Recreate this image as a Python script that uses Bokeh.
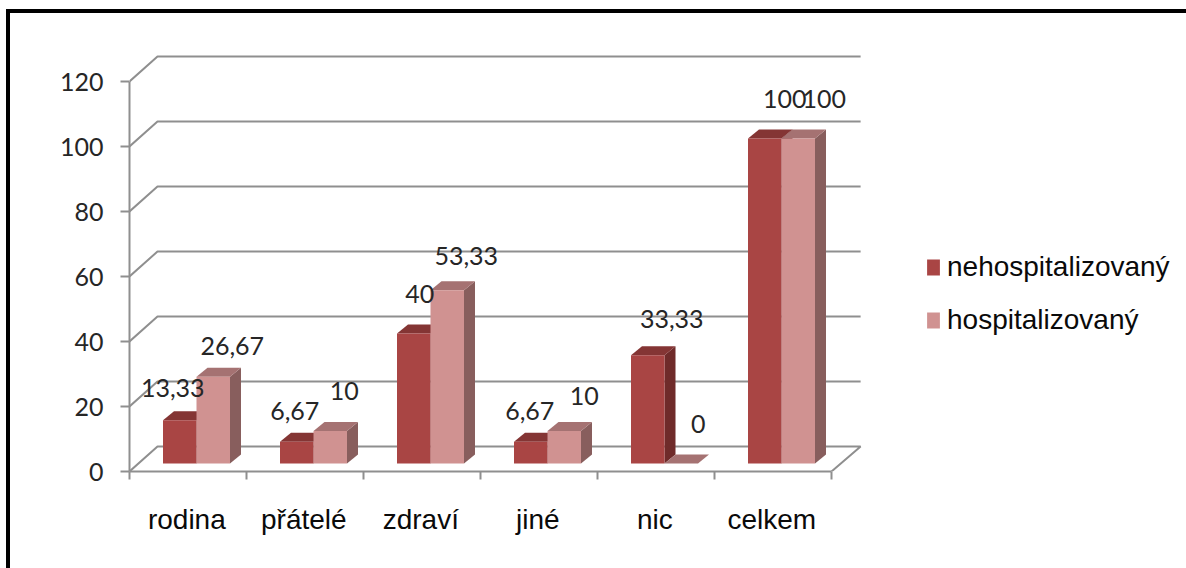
from bokeh.core.properties import value
from bokeh.embed import file_html
from bokeh.models import FixedTicker, Legend, LegendItem
from bokeh.plotting import figure
from bokeh.resources import INLINE

categories = ["rodina", "přátelé", "zdraví", "jiné", "nic", "celkem"]
nehospitalizovany = [13.33, 6.67, 40, 6.67, 33.33, 100]
hospitalizovany = [26.67, 10, 53.33, 10, 0, 100]
value_labels_a = ["13,33", "6,67", "40", "6,67", "33,33", "100"]
value_labels_b = ["26,67", "10", "53,33", "10", "0", "100"]
y_ticks = [0, 20, 40, 60, 80, 100, 120]

# label nudges in pixels relative to the bar centre / bar top
offsets_a = [(-7, -32), (-2, -31), (6, -40), (-1, -31), (24, -36), (20, -40)]
offsets_b = [(19, -31), (14, -40), (19, -34), (20, -35), (17, -40), (26, -40)]

FONT_NUM = "Lato"
FONT_TXT = "Liberation Sans"
GRID = "#8f8f8f"
DARK = ("#a94544", "#843534", "#6f2b2a")     # front, top, side
LIGHT = ("#d09291", "#a57272", "#885e5d")

PX_X, PX_Y = 117.0, 3.25                     # pixels per x unit / y unit
WALL_DX, WALL_DY = 28 / PX_X, 25 / PX_Y      # depth of the back wall
BAR_DX, BAR_DY = 11 / PX_X, 9 / PX_Y         # depth of a bar
FLOOR_Y = 8 / PX_Y                           # bars stand slightly above the axis
BAR_START = 33.5 / PX_X
BAR_W = 33.5 / PX_X
LABEL_POS = 0.49                             # category label position inside its slot

LEFT, TOP, BOTTOM = 129, 20, 97
W, H = 1186, 568

p = figure(
    width=W, height=H, output_backend="svg", toolbar_location=None,
    x_range=(0, (W - LEFT) / PX_X),
    y_range=(0, (H - BOTTOM - TOP) / PX_Y),
    min_border_left=LEFT, min_border_right=0,
    min_border_top=TOP, min_border_bottom=BOTTOM,
    outline_line_color=None,
    background_fill_color=None, border_fill_color=None,
)
p.grid.visible = False

# black frame along the left and top edges, painted behind the transparent canvas
p.styles = {
    "background-color": "white",
    "background-image": "linear-gradient(black, black), linear-gradient(black, black)",
    "background-size": "4px 559px, 1180px 4px",
    "background-position": "6px 9px, 6px 9px",
    "background-repeat": "no-repeat",
}

# axes
ax = p.xaxis[0]
ax.ticker = FixedTicker(ticks=[i + LABEL_POS for i in range(6)], minor_ticks=list(range(7)))
ax.major_label_overrides = {i + LABEL_POS: c for i, c in enumerate(categories)}
ax.bounds = (0, 6)
ax.major_tick_in = ax.major_tick_out = 0
ax.minor_tick_in, ax.minor_tick_out = 0, 8
ax.minor_tick_line_color = GRID
ax.minor_tick_line_width = 2
ax.axis_line_color = GRID
ax.axis_line_width = 2
ax.major_label_standoff = 24
ax.major_label_text_font = FONT_TXT
ax.major_label_text_font_size = "28px"
ax.major_label_text_color = "#0a0a0a"

ay = p.yaxis[0]
ay.ticker = FixedTicker(ticks=y_ticks)
ay.bounds = (0, 120)
ay.major_tick_in, ay.major_tick_out = 0, 9
ay.minor_tick_in = ay.minor_tick_out = 0
ay.major_tick_line_color = GRID
ay.major_tick_line_width = 2
ay.axis_line_color = GRID
ay.axis_line_width = 2
ay.major_label_standoff = 17
ay.major_label_text_font = FONT_NUM
ay.major_label_text_font_size = "25px"
ay.major_label_text_color = "#262626"

# back wall grid and floor
for t in y_ticks[1:]:
    p.line([0, WALL_DX, 6 + WALL_DX * 1.04], [t, t + WALL_DY, t + WALL_DY],
           line_color=GRID, line_width=2)
p.line([0, WALL_DX, 6 + WALL_DX * 1.04, 6], [0, WALL_DY, WALL_DY, 0],
       line_color=GRID, line_width=2)


def draw_bar(x0, v, colours):
    front, top, side = colours
    x1 = x0 + BAR_W
    y0, y1 = FLOOR_Y, FLOOR_Y + v
    if v > 0:
        p.patch([x1, x1 + BAR_DX, x1 + BAR_DX, x1],
                [y0, y0 + BAR_DY, y1 + BAR_DY, y1], fill_color=side, line_color=None)
    p.patch([x0, x1, x1 + BAR_DX, x0 + BAR_DX],
            [y1, y1, y1 + BAR_DY, y1 + BAR_DY], fill_color=top, line_color=None)
    if v > 0:
        return p.quad(left=x0, right=x1, bottom=y0, top=y1, fill_color=front, line_color=None)
    return None


legend_a = legend_b = None
for i in range(6):
    xa = i + BAR_START
    xb = xa + BAR_W
    ra = draw_bar(xa, nehospitalizovany[i], DARK)
    rb = draw_bar(xb, hospitalizovany[i], LIGHT)
    legend_a = legend_a or ra
    legend_b = legend_b or rb

# value labels
for i in range(6):
    for x0, v, lab, (ox, oy) in (
        (i + BAR_START, nehospitalizovany[i], value_labels_a[i], offsets_a[i]),
        (i + BAR_START + BAR_W, hospitalizovany[i], value_labels_b[i], offsets_b[i]),
    ):
        p.text([x0 + BAR_W / 2], [FLOOR_Y + v], text=[lab], x_offset=ox, y_offset=oy,
               text_align="center", text_baseline="middle",
               text_font=value(FONT_NUM), text_font_size="25px", text_color="#262626")

legend = Legend(
    items=[LegendItem(label="nehospitalizovaný", renderers=[legend_a]),
           LegendItem(label="hospitalizovaný", renderers=[legend_b])],
    location=(796, 135), orientation="vertical",
    glyph_width=16, glyph_height=20, spacing=21, padding=0, margin=0,
    label_standoff=6, label_height=28,
    label_text_font=FONT_TXT, label_text_font_size="28px", label_text_color="#0a0a0a",
    background_fill_alpha=0, border_line_color=None,
)
p.add_layout(legend, "center")

open("out.html", "w").write(file_html(p, INLINE))
